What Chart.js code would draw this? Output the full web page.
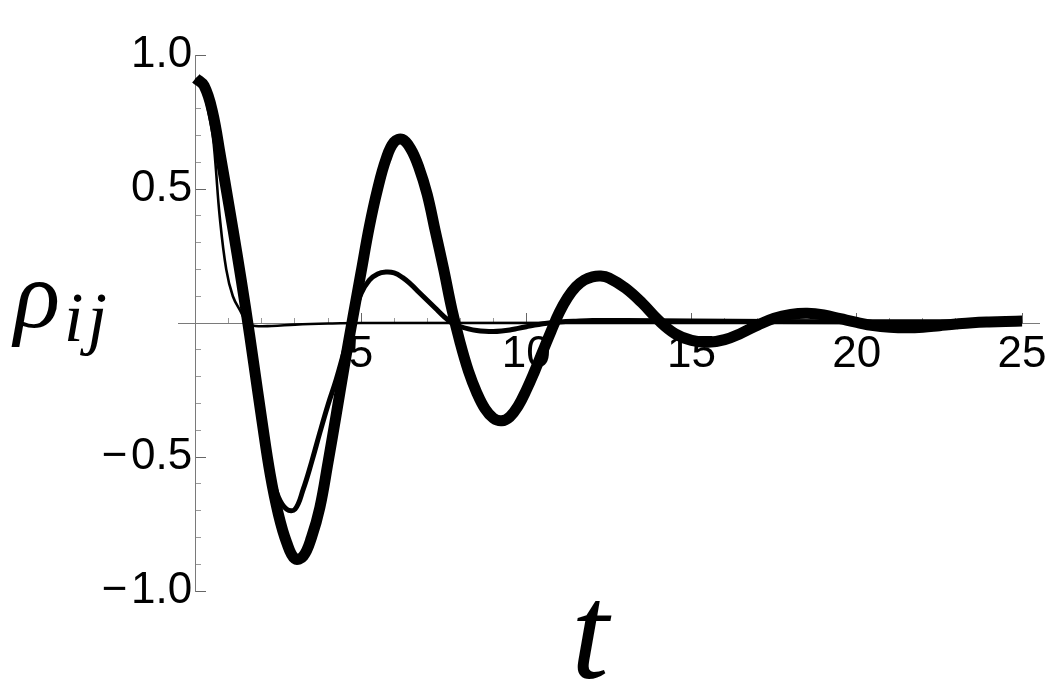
<!DOCTYPE html>
<html>
<head>
<meta charset="utf-8">
<script src="https://cdn.jsdelivr.net/npm/chart.js@4"></script>
<style>
  html, body { margin: 0; padding: 0; background: #fff; }
  #wrap { width: 1062px; height: 696px; }
</style>
</head>
<body>
<div id="wrap"><canvas id="chart" width="1062" height="696"></canvas></div>
<script>
// thick curve
const tThick = [0, 0.25, 0.5, 0.75, 1.0, 1.25, 1.5, 1.75, 2.0, 2.25, 2.5, 2.75, 3.0, 3.25, 3.5, 3.75,
  4.0, 4.25, 4.5, 4.75, 5.0, 5.25, 5.5, 5.75, 6.0, 6.25, 6.5, 6.75, 7.0, 7.25, 7.5, 7.75,
  8.0, 8.25, 8.5, 8.75, 9.0, 9.25, 9.5, 9.75, 10.0, 10.25, 10.5, 10.75, 11.0, 11.25, 11.5, 11.75,
  12.0, 12.25, 12.5, 13.0, 13.5, 14.0, 14.5, 15.0, 15.5, 16.0, 16.5, 17.0, 17.5, 18.0, 18.5, 19.0,
  19.5, 20.0, 20.5, 21.0, 21.5, 22.0, 22.5, 23.0, 23.5, 24.0, 24.5, 25.0];
const rhoThick = [0.913, 0.885, 0.79, 0.62, 0.44, 0.255, 0.06, -0.15, -0.365, -0.565, -0.715, -0.82, -0.88, -0.87, -0.80, -0.69,
  -0.52, -0.34, -0.155, 0.02, 0.19, 0.36, 0.50, 0.61, 0.675, 0.685, 0.65, 0.58, 0.48, 0.34, 0.20, 0.05,
  -0.075, -0.18, -0.26, -0.32, -0.355, -0.365, -0.35, -0.31, -0.25, -0.18, -0.105, -0.03, 0.04, 0.095, 0.135, 0.16,
  0.172, 0.175, 0.168, 0.13, 0.075, 0.01, -0.04, -0.065, -0.072, -0.062, -0.038, -0.008, 0.018, 0.032, 0.036, 0.03,
  0.016, 0.002, -0.01, -0.016, -0.018, -0.016, -0.01, -0.004, 0.001, 0.004, 0.006, 0.007];

// medium curve
const tMedium = [0, 0.25, 0.5, 0.75, 1.0, 1.25, 1.5, 1.75, 2.0, 2.25, 2.5, 2.75, 3.0, 3.25, 3.5, 3.75,
  4.0, 4.25, 4.5, 4.75, 5.0, 5.25, 5.5, 5.75, 6.0, 6.25, 6.5, 6.75, 7.0, 7.25, 7.5, 7.75,
  8.0, 8.25, 8.5, 8.75, 9.0, 9.25, 9.5, 9.75, 10.0, 10.25, 10.5, 10.75, 11.0, 11.5, 12, 13, 15, 20, 25];
const rhoMedium = [0.913, 0.885, 0.785, 0.60, 0.41, 0.21, 0.015, -0.19, -0.39, -0.55, -0.65, -0.695, -0.695, -0.62, -0.52, -0.41,
  -0.305, -0.21, -0.10, 0.015, 0.11, 0.16, 0.183, 0.19, 0.187, 0.17, 0.145, 0.115, 0.085, 0.055, 0.025, 0.0,
  -0.013, -0.022, -0.028, -0.031, -0.032, -0.03, -0.026, -0.02, -0.014, -0.008, -0.003, 0.001, 0.004, 0.007, 0.009, 0.009, 0.007, 0.005, 0.004];

// thin curve
const tThin = [0, 0.2, 0.36, 0.51, 0.59, 0.72, 0.92, 1.12, 1.37, 1.55, 1.8, 2.3, 3.0, 4.0, 5.0, 25];
const rhoThin = [0.913, 0.88, 0.80, 0.70, 0.60, 0.40, 0.20, 0.10, 0.04, 0.0, -0.011, -0.011, -0.006, -0.002, 0.0, 0.0];

const xMinorTicks = [1, 2, 3, 4, 5, 6, 7, 8, 9, 10, 11, 12, 13, 14, 15, 16, 17, 18, 19, 20, 21, 22, 23, 24, 25];
const xLabelTicks = [5, 10, 15, 20, 25];
const yMinorTicks = [-1.0, -0.9, -0.8, -0.7, -0.6, -0.5, -0.4, -0.3, -0.2, -0.1, 0.1, 0.2, 0.3, 0.4, 0.5, 0.6, 0.7, 0.8, 0.9, 1.0];
const yLabelTicks = [-1.0, -0.5, 0.5, 1.0];

function toPoints(ts, ys) {
  return ts.map((t, i) => ({x: t, y: ys[i]}));
}

function setTicks(values) {
  return scale => { scale.ticks = values.map(v => ({value: v})); };
}

const tickFont = {family: 'Liberation Sans, Arial, sans-serif', size: 44};

const axisTitles = {
  id: 'axisTitles',
  afterDraw(chart) {
    const ctx = chart.ctx;
    ctx.save();
    ctx.fillStyle = '#000';
    ctx.textBaseline = 'alphabetic';
    ctx.textAlign = 'left';
    ctx.font = 'italic 96px "Liberation Serif"';
    ctx.fillText('ρ', 14, 327);
    ctx.font = 'italic 70px "Liberation Serif"';
    ctx.letterSpacing = '4px';
    ctx.fillText('ij', 64, 341);
    ctx.letterSpacing = '0px';
    ctx.textAlign = 'center';
    ctx.font = 'italic 135px "Liberation Serif"';
    ctx.fillText('t', 590, 678);
    ctx.restore();
  }
};

const line = (data, width) => ({
  data: data,
  borderColor: '#000',
  borderWidth: width,
  pointRadius: 0,
  fill: false,
  tension: 0.4,
  borderCapStyle: 'butt',
  borderJoinStyle: 'round'
});

new Chart(document.getElementById('chart'), {
  type: 'line',
  data: {
    datasets: [
      line(toPoints(tThin, rhoThin), 2.6),
      line(toPoints(tMedium, rhoMedium), 5),
      line(toPoints(tThick, rhoThick), 11)
    ]
  },
  options: {
    responsive: false,
    animation: false,
    layout: {padding: {left: 178, right: 13, top: 55, bottom: 105}},
    plugins: {legend: {display: false}, tooltip: {enabled: false}},
    scales: {
      x: {
        type: 'linear', min: -0.54, max: 25.54, position: {y: 0},
        afterBuildTicks: setTicks(xMinorTicks),
        ticks: {display: false},
        grid: {drawOnChartArea: false, tickLength: -6, tickColor: '#9a9a9a', tickWidth: 1},
        border: {color: '#7a7a7a', width: 1}
      },
      xLab: {
        type: 'linear', axis: 'x', min: -0.54, max: 25.54, position: {y: 0},
        afterBuildTicks: setTicks(xLabelTicks),
        ticks: {autoSkip: false, maxRotation: 0, padding: 15, font: tickFont, color: '#000',
          callback: v => String(v)},
        grid: {drawOnChartArea: false, tickLength: -10, tickColor: '#666', tickWidth: 1},
        border: {display: false}
      },
      y: {
        type: 'linear', min: -1, max: 1, position: {x: 0},
        afterBuildTicks: setTicks(yMinorTicks),
        ticks: {display: false},
        grid: {drawOnChartArea: false, tickLength: -6, tickColor: '#9a9a9a', tickWidth: 1},
        border: {color: '#7a7a7a', width: 1}
      },
      yLab: {
        type: 'linear', axis: 'y', min: -1, max: 1, position: {x: 0},
        afterBuildTicks: setTicks(yLabelTicks),
        ticks: {autoSkip: false, padding: 28, font: tickFont, color: '#000',
          callback: v => v.toFixed(1).replace('-', '\u2212\u200a') + '\u200a'},
        grid: {drawOnChartArea: false, tickLength: -10, tickColor: '#666', tickWidth: 1},
        border: {display: false}
      }
    }
  },
  plugins: [axisTitles]
});
</script>
</body>
</html>
